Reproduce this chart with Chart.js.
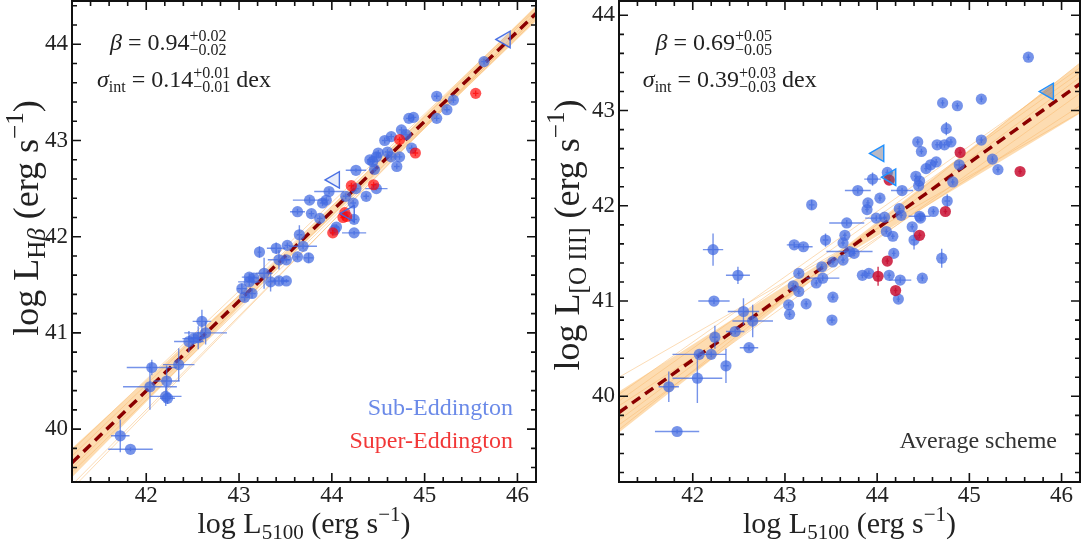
<!DOCTYPE html>
<html>
<head>
<meta charset="utf-8">
<script src="https://cdn.jsdelivr.net/npm/chart.js@4.4.1/dist/chart.umd.min.js"></script>
<style>
  html, body { margin: 0; padding: 0; background: #fff; }
  #wrap { position: relative; width: 1081px; height: 550px; }
  canvas { position: absolute; top: 0; }
  #hbChart { left: 0; }
  #o3Chart { left: 545px; }
</style>
</head>
<body>
<div id="wrap">
  <canvas id="hbChart" width="545" height="550"></canvas>
  <canvas id="o3Chart" width="536" height="550"></canvas>
</div>
<script>
// ---- data ----
const xTicks = [42, 43, 44, 45, 46];
const yTicks = [40, 41, 42, 43, 44];
const fitX = [41.2, 46.2];

// left panel: log L_Hb vs log L5100  [x, y, xerr, yerr]
const hbSub = [
  [41.72, 39.93, 0.10, 0.17], [41.83, 39.79, 0.24, 0.02], [42.06, 40.64, 0.27, 0.08],
  [42.04, 40.44, 0.29, 0.24], [42.22, 40.50, 0.14, 0.16], [42.21, 40.34, 0.17, 0.10],
  [42.23, 40.32, 0.08, 0.06], [42.35, 40.67, 0.17, 0.17], [42.46, 40.91, 0.16, 0.11],
  [42.51, 40.94, 0.12, 0.05], [42.56, 40.95, 0.08, 0.12], [42.60, 41.12, 0.10, 0.12],
  [42.64, 41.00, 0.23, 0.12], [43.03, 41.46, 0.05, 0.05], [43.06, 41.37, 0.04, 0.04],
  [43.11, 41.53, 0.12, 0.04], [43.11, 41.58, 0.08, 0.04], [43.16, 41.57, 0.05, 0.03],
  [43.14, 41.41, 0.04, 0.05], [43.27, 41.62, 0.09, 0.16], [43.34, 41.53, 0.03, 0.10],
  [43.43, 41.54, 0.10, 0.04], [43.51, 41.54, 0.03, 0.02], [43.43, 41.76, 0.12, 0.10],
  [43.22, 41.84, 0.02, 0.06], [43.40, 41.88, 0.10, 0.06], [43.52, 41.91, 0.03, 0.03],
  [43.65, 42.02, 0.03, 0.10], [43.69, 41.90, 0.15, 0.03], [43.63, 41.79, 0.03, 0.03],
  [43.75, 41.78, 0.05, 0.05], [43.51, 41.76, 0.03, 0.03], [43.63, 42.26, 0.08, 0.03],
  [43.78, 42.24, 0.03, 0.03], [43.87, 42.19, 0.03, 0.03], [43.76, 42.38, 0.18, 0.03],
  [43.90, 42.35, 0.03, 0.03], [43.94, 42.38, 0.03, 0.03], [43.97, 42.47, 0.16, 0.03],
  [44.05, 42.10, 0.03, 0.03], [44.03, 42.07, 0.03, 0.03], [44.24, 42.04, 0.13, 0.02],
  [44.24, 42.18, 0.03, 0.04], [44.15, 42.42, 0.03, 0.03], [44.23, 42.35, 0.03, 0.03],
  [44.26, 42.50, 0.03, 0.03], [44.37, 42.42, 0.03, 0.03], [44.48, 42.50, 0.12, 0.02],
  [44.26, 42.69, 0.11, 0.02], [44.41, 42.80, 0.03, 0.03], [44.44, 42.78, 0.03, 0.03],
  [44.48, 42.83, 0.03, 0.03], [44.46, 42.70, 0.03, 0.03], [44.50, 42.87, 0.03, 0.03],
  [44.60, 42.88, 0.03, 0.03], [44.64, 42.83, 0.03, 0.03], [44.73, 42.83, 0.03, 0.03],
  [44.70, 42.73, 0.03, 0.03], [44.57, 43.00, 0.03, 0.03], [44.64, 43.04, 0.03, 0.03],
  [44.75, 43.11, 0.03, 0.03], [44.80, 43.06, 0.03, 0.03], [44.86, 42.92, 0.03, 0.03],
  [44.83, 43.23, 0.03, 0.03], [44.88, 43.24, 0.03, 0.03], [45.13, 43.46, 0.03, 0.03],
  [45.13, 43.23, 0.03, 0.03], [45.24, 43.32, 0.03, 0.03], [45.31, 43.42, 0.03, 0.03],
  [45.64, 43.82, 0.03, 0.03]
];
const hbSuper = [
  [45.55, 43.49, 0.03, 0.03], [44.73, 43.01, 0.03, 0.03], [44.90, 42.87, 0.03, 0.03],
  [44.45, 42.54, 0.03, 0.03], [44.21, 42.53, 0.03, 0.03], [44.14, 42.25, 0.03, 0.03],
  [44.12, 42.20, 0.03, 0.03], [44.16, 42.21, 0.03, 0.03], [44.01, 42.04, 0.03, 0.03]
];
const hbLimits = [[45.87, 44.05], [44.03, 42.59], [44.19, 42.24]];
const hbFitY = [39.65, 44.32];
const hbBandX = [41.2, 43.4, 46.2];
const hbBandHi = [39.80, 41.75, 44.40];
const hbBandLo = [39.50, 41.65, 44.24];
const hbSamples = [[39.78, 44.38], [39.72, 44.36], [39.60, 44.28], [39.55, 44.26], [39.42, 44.30], [39.38, 44.33]];

// right panel: log L_[OIII] vs log L5100
const o3Sub = [
  [45.64, 43.56, 0.02, 0.03], [45.13, 43.12, 0.02, 0.03], [44.71, 43.08, 0.02, 0.03],
  [44.87, 43.05, 0.02, 0.03], [44.75, 42.81, 0.02, 0.07], [44.44, 42.67, 0.02, 0.03],
  [44.65, 42.64, 0.02, 0.03], [44.73, 42.64, 0.02, 0.03], [44.80, 42.67, 0.02, 0.03],
  [45.13, 42.69, 0.02, 0.03], [44.48, 42.57, 0.02, 0.03], [45.25, 42.49, 0.02, 0.03],
  [45.31, 42.38, 0.02, 0.03], [44.64, 42.46, 0.02, 0.03], [44.58, 42.43, 0.02, 0.03],
  [44.53, 42.39, 0.02, 0.03], [44.89, 42.43, 0.04, 0.04], [44.82, 42.25, 0.02, 0.03],
  [44.42, 42.31, 0.02, 0.03], [44.46, 42.26, 0.02, 0.03], [44.45, 42.21, 0.02, 0.03],
  [44.11, 42.35, 0.02, 0.03], [43.95, 42.28, 0.09, 0.07], [43.79, 42.16, 0.14, 0.03],
  [44.03, 42.08, 0.02, 0.03], [44.27, 42.16, 0.12, 0.03], [43.90, 42.03, 0.02, 0.03],
  [43.89, 41.96, 0.02, 0.03], [44.76, 42.05, 0.03, 0.07], [44.61, 41.94, 0.02, 0.03],
  [44.24, 41.97, 0.02, 0.03], [44.26, 41.90, 0.02, 0.03], [44.46, 41.89, 0.12, 0.03],
  [44.47, 41.87, 0.02, 0.03], [43.99, 41.87, 0.12, 0.03], [44.08, 41.88, 0.02, 0.03],
  [43.29, 42.01, 0.03, 0.05], [43.67, 41.82, 0.19, 0.03], [44.10, 41.73, 0.02, 0.03],
  [44.17, 41.68, 0.02, 0.03], [44.40, 41.64, 0.03, 0.10], [44.38, 41.78, 0.02, 0.03],
  [43.65, 41.69, 0.02, 0.03], [43.63, 41.61, 0.02, 0.03], [43.44, 41.64, 0.03, 0.07],
  [43.10, 41.59, 0.08, 0.03], [43.20, 41.57, 0.10, 0.03], [42.22, 41.54, 0.11, 0.17],
  [44.18, 41.50, 0.02, 0.03], [44.70, 41.45, 0.02, 0.10], [43.70, 41.52, 0.25, 0.03],
  [43.75, 41.50, 0.02, 0.03], [43.63, 41.43, 0.02, 0.03], [43.52, 41.41, 0.02, 0.03],
  [43.40, 41.36, 0.02, 0.03], [43.15, 41.29, 0.02, 0.03], [43.41, 41.24, 0.18, 0.03],
  [43.34, 41.19, 0.02, 0.03], [43.09, 41.16, 0.02, 0.03], [43.15, 41.10, 0.02, 0.03],
  [43.04, 40.96, 0.03, 0.03], [43.23, 40.97, 0.02, 0.03], [43.05, 40.86, 0.02, 0.03],
  [43.52, 41.04, 0.02, 0.03], [43.51, 40.80, 0.03, 0.03], [43.84, 41.27, 0.02, 0.03],
  [43.91, 41.29, 0.02, 0.03], [44.13, 41.27, 0.02, 0.03], [44.25, 41.22, 0.12, 0.03],
  [44.49, 41.24, 0.02, 0.03], [44.23, 41.02, 0.02, 0.03], [42.49, 41.27, 0.13, 0.09],
  [42.23, 41.00, 0.17, 0.03], [42.55, 40.89, 0.17, 0.14], [42.65, 40.79, 0.22, 0.17],
  [42.46, 40.68, 0.10, 0.03], [42.24, 40.62, 0.03, 0.12], [42.61, 40.51, 0.10, 0.03],
  [42.07, 40.44, 0.29, 0.03], [42.20, 40.44, 0.03, 0.03], [42.36, 40.32, 0.03, 0.18],
  [42.05, 40.19, 0.27, 0.26], [41.74, 40.10, 0.11, 0.16], [41.83, 39.63, 0.24, 0.02]
];
const o3Super = [
  [44.90, 42.56, 0.02, 0.03], [45.55, 42.36, 0.02, 0.03], [44.13, 42.27, 0.02, 0.03],
  [44.74, 41.94, 0.02, 0.03], [44.46, 41.69, 0.02, 0.03], [44.11, 41.42, 0.02, 0.03],
  [44.01, 41.26, 0.02, 0.10], [44.20, 41.11, 0.02, 0.03]
];
const o3Limits = [[45.86, 43.20], [44.02, 42.55], [44.15, 42.30]];
const o3FitY = [39.83, 43.28];
const o3BandX = [41.2, 43.6, 46.2];
const o3BandHi = [40.05, 41.53, 43.50];
const o3BandLo = [39.62, 41.45, 42.97];
const o3Samples = [[40.20, 42.98], [40.02, 43.45], [39.95, 43.40], [39.70, 43.18], [39.65, 43.50], [39.90, 43.05], [39.75, 43.35]];

// ---- styling helpers ----
const SERIF = '"Liberation Serif", "DejaVu Serif", serif';
const INK = '#222';
const BLUE = 'rgba(65,105,225,0.72)';
const BAND = 'rgba(252,196,125,0.6)';
const SAMPLE = 'rgba(250,185,110,0.5)';

function font(size, italic) { return (italic ? 'italic ' : '') + size + 'px ' + SERIF; }
function pts(arr) { return arr.map(p => ({ x: p[0], y: p[1] })); }
function errs(arr) { return arr.map(p => [p[2] || 0, p[3] || 0]); }
function seg(xs, ys) { return xs.map((x, i) => ({ x: x, y: ys[i] })); }

// draw a run of text pieces with sub/superscripts
function drawRich(ctx, parts, x, y, align) {
  const widths = parts.map(p => {
    if (p.t !== undefined) { ctx.font = font(p.s, p.i); return ctx.measureText(p.t).width; }
    ctx.font = font(p.s);
    return Math.max(ctx.measureText(p.sup).width, ctx.measureText(p.sub).width);
  });
  const total = widths.reduce((a, b) => a + b, 0);
  let cx = align === 'center' ? x - total / 2 : align === 'right' ? x - total : x;
  ctx.textAlign = 'left';
  ctx.textBaseline = 'alphabetic';
  parts.forEach((p, i) => {
    if (p.t !== undefined) {
      ctx.font = font(p.s, p.i);
      ctx.fillText(p.t, cx, y + (p.dy || 0));
    } else {
      ctx.font = font(p.s);
      ctx.fillText(p.sup, cx, y - 9);
      ctx.fillText(p.sub, cx, y + 5);
    }
    cx += widths[i];
  });
}

const xTitle = [
  { t: 'log L', s: 30 }, { t: '5100', s: 21, dy: 6 }, { t: ' (erg s', s: 30 },
  { t: '\u22121', s: 21, dy: -12 }, { t: ')', s: 30 }
];

// error bars drawn just before their point dataset
const errorBars = {
  id: 'errorBars',
  beforeDatasetDraw(chart, args) {
    const ds = chart.data.datasets[args.index];
    if (!ds.errors) return;
    const { ctx, scales: { x, y } } = chart;
    ctx.save();
    ctx.strokeStyle = ds.backgroundColor;
    ctx.lineWidth = 1.4;
    ds.data.forEach((p, i) => {
      const [ex, ey] = ds.errors[i];
      const px = x.getPixelForValue(p.x), py = y.getPixelForValue(p.y);
      ctx.beginPath();
      ctx.moveTo(x.getPixelForValue(p.x - ex), py);
      ctx.lineTo(x.getPixelForValue(p.x + ex), py);
      ctx.moveTo(px, y.getPixelForValue(p.y - ey));
      ctx.lineTo(px, y.getPixelForValue(p.y + ey));
      ctx.stroke();
    });
    ctx.restore();
  }
};

// frame with inward ticks on all four sides
const frameTicks = {
  id: 'frameTicks',
  afterDatasetsDraw(chart) {
    const { ctx, chartArea: a, scales: { x, y } } = chart;
    ctx.save();
    ctx.strokeStyle = '#111';
    ctx.lineWidth = 1.6;
    ctx.beginPath();
    for (let k = Math.ceil(x.min * 5); k <= Math.floor(x.max * 5); k++) {
      const px = x.getPixelForValue(k / 5), len = k % 5 === 0 ? 9 : 5;
      ctx.moveTo(px, a.bottom); ctx.lineTo(px, a.bottom - len);
      ctx.moveTo(px, a.top); ctx.lineTo(px, a.top + len);
    }
    for (let k = Math.ceil(y.min * 5); k <= Math.floor(y.max * 5); k++) {
      const py = y.getPixelForValue(k / 5), len = k % 5 === 0 ? 9 : 5;
      ctx.moveTo(a.left, py); ctx.lineTo(a.left + len, py);
      ctx.moveTo(a.right, py); ctx.lineTo(a.right - len, py);
    }
    ctx.stroke();
    ctx.lineWidth = 2;
    ctx.strokeRect(a.left, a.top, a.right - a.left, a.bottom - a.top);
    ctx.restore();
  }
};

// annotation and axis-title text
const panelText = {
  id: 'panelText',
  afterDraw(chart, args, opts) {
    const { ctx, chartArea: a } = chart;
    ctx.save();
    ctx.fillStyle = INK;
    drawRich(ctx, opts.line1, opts.l1x, 50, 'left');
    drawRich(ctx, opts.line2, opts.l2x, 87, 'left');
    drawRich(ctx, xTitle, (a.left + a.right) / 2, 533, 'center');
    ctx.save();
    ctx.translate(opts.yTitleX, opts.yTitleY);
    ctx.rotate(-Math.PI / 2);
    drawRich(ctx, opts.yTitle, 0, 0, 'center');
    ctx.restore();
    opts.notes.forEach(n => {
      ctx.fillStyle = n.color;
      ctx.font = font(24);
      ctx.textAlign = 'right';
      ctx.textBaseline = 'alphabetic';
      ctx.fillText(n.text, n.x, n.y);
    });
    ctx.restore();
  }
};

function makePanel(id, p) {
  const datasets = [
    { type: 'line', data: seg(p.bandX, p.bandHi), borderWidth: 0, pointRadius: 0, fill: '+1', backgroundColor: BAND, order: 6 },
    { type: 'line', data: seg(p.bandX, p.bandLo), borderWidth: 0, pointRadius: 0, fill: false, order: 6 }
  ];
  p.samples.forEach(s => datasets.push({
    type: 'line', data: seg(fitX, s), borderColor: SAMPLE, borderWidth: 1, pointRadius: 0, fill: false, order: 5
  }));
  datasets.push({
    type: 'line', data: seg(fitX, p.fitY), borderColor: '#8b0000', borderWidth: 3.5,
    borderDash: [10, 6], pointRadius: 0, fill: false, order: 4
  });
  datasets.push({
    data: pts(p.sub), errors: errs(p.sub), backgroundColor: BLUE, borderWidth: 0,
    pointRadius: 5.6, order: 3
  });
  datasets.push({
    data: pts(p.sup), errors: errs(p.sup), backgroundColor: p.redColor, borderWidth: 0,
    pointRadius: 5.6, order: 2
  });
  datasets.push({
    data: pts(p.limits), pointStyle: 'triangle', rotation: -90, pointRadius: 9.5,
    backgroundColor: p.triFill, borderColor: p.triEdge, borderWidth: 1.4, order: 1
  });

  return new Chart(document.getElementById(id), {
    type: 'scatter',
    data: { datasets: datasets },
    options: {
      responsive: false,
      animation: false,
      events: [],
      layout: { autoPadding: false, padding: { left: 0, top: 1, right: p.padRight, bottom: 0 } },
      plugins: {
        legend: { display: false },
        tooltip: { enabled: false },
        panelText: p.text
      },
      scales: {
        x: {
          type: 'linear', min: 41.2, max: 46.2,
          afterBuildTicks: s => { s.ticks = xTicks.map(v => ({ value: v })); },
          afterFit: s => { s.height = 68; s.paddingLeft = 0; s.paddingRight = 0; },
          grid: { display: false, drawTicks: false },
          border: { display: false },
          ticks: { color: INK, padding: 0, font: { family: SERIF, size: 23 }, callback: v => String(v) }
        },
        y: {
          type: 'linear', min: p.yMin, max: p.yMax,
          afterBuildTicks: s => { s.ticks = yTicks.map(v => ({ value: v })); },
          afterFit: s => { s.width = p.yWidth; s.paddingTop = 0; s.paddingBottom = 0; },
          grid: { display: false, drawTicks: false },
          border: { display: false },
          ticks: { color: INK, padding: 4, font: { family: SERIF, size: 23 }, callback: v => String(v) }
        }
      }
    },
    plugins: [errorBars, frameTicks, panelText]
  });
}

makePanel('hbChart', {
  sub: hbSub, sup: hbSuper, limits: hbLimits, fitY: hbFitY,
  bandX: hbBandX, bandHi: hbBandHi, bandLo: hbBandLo, samples: hbSamples,
  redColor: 'rgba(255,0,0,0.68)', triFill: 'rgba(65,105,225,0.12)', triEdge: 'rgba(65,105,225,0.95)',
  yMin: 39.45, yMax: 44.45, yWidth: 72, padRight: 9,
  text: {
    l1x: 110, l2x: 97, yTitleX: 38, yTitleY: 218,
    line1: [{ t: '\u03b2', s: 24, i: true }, { t: ' = 0.94', s: 24 }, { sup: '+0.02', sub: '\u22120.02', s: 16 }],
    line2: [{ t: '\u03c3', s: 24, i: true }, { t: 'int', s: 16, dy: 5 }, { t: ' = 0.14', s: 24 },
            { sup: '+0.01', sub: '\u22120.01', s: 16 }, { t: ' dex', s: 24 }],
    yTitle: [{ t: 'log L', s: 36 }, { t: 'H', s: 25, dy: 7 }, { t: '\u03b2', s: 25, i: true, dy: 7 },
             { t: ' (erg s', s: 36 }, { t: '\u22121', s: 25, dy: -15 }, { t: ')', s: 36 }],
    notes: [
      { text: 'Sub-Eddington', color: 'rgba(65,105,225,0.78)', x: 513, y: 415 },
      { text: 'Super-Eddington', color: 'rgba(240,20,20,0.85)', x: 513, y: 448 }
    ]
  }
});

makePanel('o3Chart', {
  sub: o3Sub, sup: o3Super, limits: o3Limits, fitY: o3FitY,
  bandX: o3BandX, bandHi: o3BandHi, bandLo: o3BandLo, samples: o3Samples,
  redColor: 'rgba(200,15,50,0.85)', triFill: 'rgba(100,100,125,0.45)', triEdge: '#1e90ff',
  yMin: 39.1, yMax: 44.15, yWidth: 74, padRight: 1,
  text: {
    l1x: 110.5, l2x: 97.8, yTitleX: 34, yTitleY: 235,
    line1: [{ t: '\u03b2', s: 24, i: true }, { t: ' = 0.69', s: 24 }, { sup: '+0.05', sub: '\u22120.05', s: 16 }],
    line2: [{ t: '\u03c3', s: 24, i: true }, { t: 'int', s: 16, dy: 5 }, { t: ' = 0.39', s: 24 },
            { sup: '+0.03', sub: '\u22120.03', s: 16 }, { t: ' dex', s: 24 }],
    yTitle: [{ t: 'log L', s: 36 }, { t: '[O III]', s: 25, dy: 7 },
             { t: ' (erg s', s: 36 }, { t: '\u22121', s: 25, dy: -15 }, { t: ')', s: 36 }],
    notes: [
      { text: 'Average scheme', color: '#333', x: 512, y: 448 }
    ]
  }
});
</script>
</body>
</html>
